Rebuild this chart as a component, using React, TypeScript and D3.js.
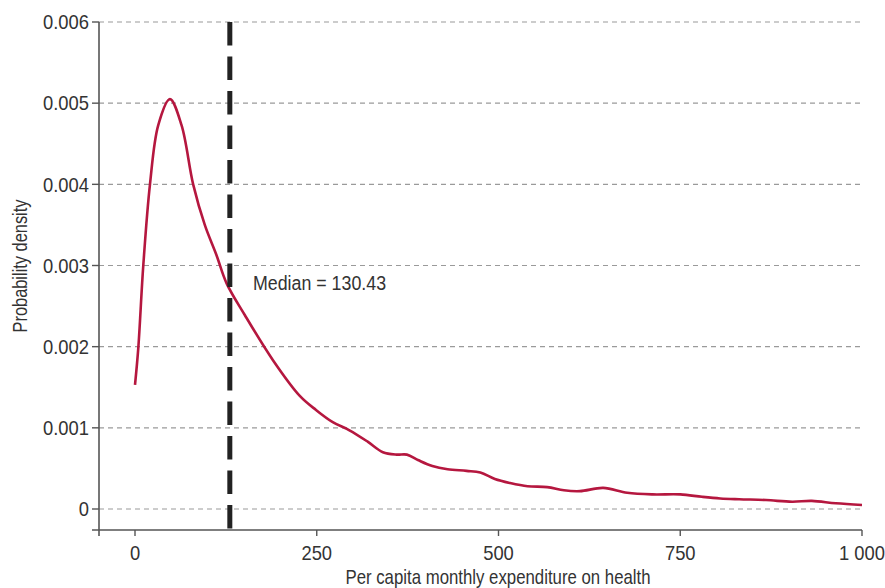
import React from "react";
import * as d3 from "d3";

// Kernel density estimate of per capita monthly health expenditure
const expenditure = [
  0, 4.5, 11.4, 20.6, 32, 48, 64, 80, 96, 112, 126, 151, 190, 227, 249, 272, 295,
  320, 341, 360, 374, 390, 409, 430, 456, 475, 495, 516, 540, 567, 590, 612, 644,
  677, 712, 750, 780, 805, 831, 868, 904, 931, 964, 1000,
];
const density = [
  0.00153, 0.00198, 0.003, 0.004, 0.00473, 0.00505, 0.00473, 0.004, 0.0035,
  0.00313, 0.00278, 0.00239, 0.00183, 0.00139, 0.00122, 0.00107, 0.00097, 0.00083,
  0.0007, 0.00067, 0.00067, 0.0006, 0.00053, 0.00049, 0.00047, 0.00045, 0.00037,
  0.00032, 0.00028, 0.00027, 0.00023, 0.00022, 0.00026, 0.0002, 0.00018, 0.00018,
  0.00015, 0.00013, 0.00012, 0.00011, 0.00009, 0.0001, 0.00007, 0.00005,
];
const yTicks = [0, 0.001, 0.002, 0.003, 0.004, 0.005, 0.006];
const yTickLabels = ["0", "0.001", "0.002", "0.003", "0.004", "0.005", "0.006"];
const xTicks = [0, 250, 500, 750, 1000];
const xTickLabels = ["0", "250", "500", "750", "1 000"];
const median = 130.43;
const medianLabel = "Median = 130.43";
const xTitle = "Per capita monthly expenditure on health";
const yTitle = "Probability density";

const W = 885;
const H = 588;
const FONT = "'Liberation Sans', Arial, sans-serif";
const TEXT = "#333";
const AXIS = "#555";
const FS = 20;

// Condensed text: regular face squeezed horizontally
function Label(props: {
  x: number;
  y: number;
  sx: number;
  anchor?: "start" | "middle" | "end";
  rotate?: number;
  dy?: string;
  children: React.ReactNode;
}) {
  const { x, y, sx, anchor = "start", rotate = 0, dy, children } = props;
  return (
    <text
      transform={`translate(${x},${y}) rotate(${rotate}) scale(${sx},1)`}
      textAnchor={anchor}
      dy={dy}
      fontFamily={FONT}
      fontSize={FS}
      fill={TEXT}
    >
      {children}
    </text>
  );
}

export default function App() {
  const x = d3.scaleLinear().domain([0, 1000]).range([135, 862]);
  const y = d3.scaleLinear().domain([0, 0.006]).range([509, 22]);
  const axisLeft = 99;
  const axisBottom = 530;

  const points = expenditure.map((e, i) => [e, density[i]] as [number, number]);
  const line = d3
    .line<[number, number]>()
    .x((d) => x(d[0]))
    .y((d) => y(d[1]))
    .curve(d3.curveCatmullRom.alpha(0.5));

  return (
    <svg width={W} height={H} style={{ display: "block", position: "absolute", left: 0, top: 0 }}>
      <rect width={W} height={H} fill="#fff" />
      {/* horizontal grid */}
      {yTicks.map((t) => (
        <line
          key={"g" + t}
          x1={axisLeft}
          x2={862}
          y1={y(t)}
          y2={y(t)}
          stroke="#9a9a9a"
          strokeWidth={1.2}
          strokeDasharray="5 4"
        />
      ))}
      {/* y axis */}
      <line x1={axisLeft} x2={axisLeft} y1={y(0.006)} y2={536} stroke={AXIS} strokeWidth={1.6} />
      {yTicks.map((t, i) => (
        <g key={"y" + t}>
          <line x1={92} x2={axisLeft} y1={y(t)} y2={y(t)} stroke={AXIS} strokeWidth={1.4} />
          <Label x={89} y={y(t)} dy="0.36em" sx={0.92} anchor="end">
            {yTickLabels[i]}
          </Label>
        </g>
      ))}
      {/* x axis */}
      <line x1={92} x2={862} y1={axisBottom} y2={axisBottom} stroke={AXIS} strokeWidth={1.6} />
      {xTicks.map((t, i) => (
        <g key={"x" + t}>
          <line x1={x(t)} x2={x(t)} y1={axisBottom} y2={536} stroke={AXIS} strokeWidth={1.4} />
          <Label x={x(t)} y={560} sx={0.92} anchor="middle">
            {xTickLabels[i]}
          </Label>
        </g>
      ))}
      {/* density curve */}
      <path d={line(points) ?? ""} fill="none" stroke="#b5173f" strokeWidth={2.6} strokeLinejoin="round" />
      {/* median marker */}
      <line
        x1={x(median)}
        x2={x(median)}
        y1={y(0.006)}
        y2={axisBottom}
        stroke="#222"
        strokeWidth={5}
        strokeDasharray="23.5 11"
      />
      <Label x={253} y={290} sx={0.89}>
        {medianLabel}
      </Label>
      {/* titles */}
      <Label x={498} y={584} sx={0.84} anchor="middle">
        {xTitle}
      </Label>
      <Label x={27} y={266} sx={0.82} anchor="middle" rotate={-90}>
        {yTitle}
      </Label>
    </svg>
  );
}
